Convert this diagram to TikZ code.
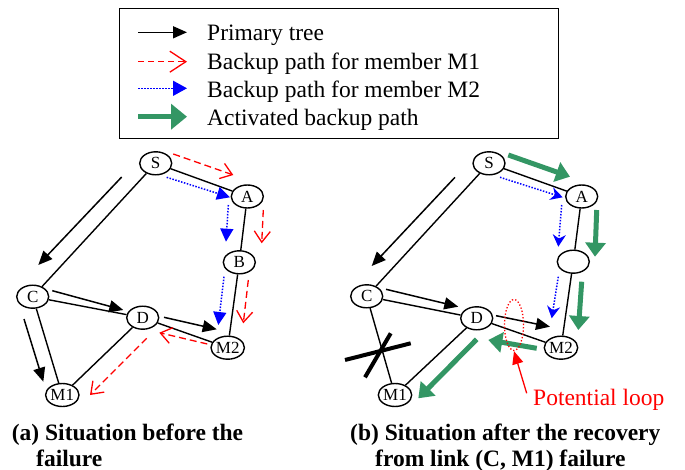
\documentclass[tikz,border=0pt]{standalone}
\usepackage{fontspec}
\setmainfont{Liberation Serif}
\usetikzlibrary{arrows.meta,shapes.geometric}
\definecolor{actgreen}{RGB}{51,150,100}
\begin{document}
\begin{tikzpicture}[x=1pt,y=-1pt,
  nd/.style={draw,ellipse,line width=1.4pt,minimum width=32pt,minimum height=23pt,inner sep=0pt,font=\fontsize{17}{17}\selectfont},
  link/.style={line width=1.4pt},
  tree/.style={line width=1.5pt,-{Triangle[length=14pt,width=12pt]}},
  redbk/.style={red,line width=1.3pt,dash pattern=on 7pt off 4pt,-{Straight Barb[length=11pt,width=16pt]}},
  bluebk/.style={blue,line width=1.5pt,dash pattern=on 1.5pt off 1.5pt,-{Triangle[length=13pt,width=13pt]}},
  bluebkb/.style={blue,line width=1.5pt,dash pattern=on 1.5pt off 1.5pt,-{Stealth[length=12pt,width=13pt]}},
  act/.style={actgreen,line width=5pt,-{Triangle[length=14pt,width=20pt]}},
  legtxt/.style={anchor=base west,inner sep=0pt,font=\fontsize{23.5}{24}\selectfont},
  capt/.style={anchor=base west,inner sep=0pt,font=\bfseries\fontsize{23.5}{24}\selectfont}
]
\useasboundingbox (0,0) rectangle (685,470);

% legend
\node[draw,line width=1.4pt,minimum width=439pt,minimum height=130pt,inner sep=0pt] (legend) at (338.8,73.3) {};
\coordinate (l1a) at (138,32.3); \coordinate (l1b) at (187,32.3);
\coordinate (l2a) at (138,61.7); \coordinate (l2b) at (187,61.7);
\coordinate (l3a) at (138,88.3); \coordinate (l3b) at (187,88.3);
\coordinate (l4a) at (138,116.7); \coordinate (l4b) at (187,116.7);
\draw[line width=1.5pt,-{Triangle[length=14pt,width=12pt]}] (l1a) -- (l1b);
\draw[red,line width=1.3pt,dash pattern=on 6pt off 4pt,-{Straight Barb[length=16pt,width=21pt]}] (l2a) -- (l2b);
\draw[blue,line width=1.5pt,dash pattern=on 1.5pt off 1.5pt,-{Triangle[length=14pt,width=15pt]}] (l3a) -- (l3b);
\draw[actgreen,line width=5pt,-{Triangle[length=16pt,width=25pt]}] (l4a) -- (l4b);
\node[legtxt] (t1) at (207,41) {Primary tree};
\node[legtxt] (t2) at (207,70) {Backup path for member M1};
\node[legtxt] (t3) at (207,97.5) {Backup path for member M2};
\node[legtxt] (t4) at (207,125.5) {Activated backup path};

% ---------- panel (a)
\node[nd] (S) at (155.7,163.3) {S};
\node[nd] (A) at (247.3,196.5) {A};
\node[nd] (B) at (239.3,262.3) {B};
\node[nd] (C) at (32.7,296.7) {C};
\node[nd] (D) at (142.7,317.7) {D};
\node[nd] (M2) at (227.7,347.7) {M2};
\node[nd] (M1) at (62.3,395) {M1};
\draw[link] (S) -- (A);
\draw[link] (S) -- (C);
\draw[link] (C) -- (D);
\draw[link] (C) -- (M1);
\draw[link] (D) -- (M1);
\draw[link] (D) -- (M2);
\draw[link] (A) -- (B);
\draw[link] (B) -- (M2);
% primary tree
\coordinate (a1) at (121.7,177); \coordinate (a2) at (38.3,265);
\coordinate (a3) at (52.3,290.7); \coordinate (a4) at (123.3,310);
\coordinate (a5) at (164,317.3); \coordinate (a6) at (216.7,329.3);
\coordinate (a7) at (24,319); \coordinate (a8) at (43.3,381.7);
\draw[tree] (a1) -- (a2);
\draw[tree] (a3) -- (a4);
\draw[tree] (a5) -- (a6);
\draw[tree] (a7) -- (a8);
% M1 backup
\coordinate (r1) at (173.3,154); \coordinate (r2) at (233.3,175);
\coordinate (r3) at (263.3,210); \coordinate (r4) at (261.7,243.3);
\coordinate (r5) at (248.3,280); \coordinate (r6) at (243.3,323.3);
\coordinate (r7) at (207.3,344); \coordinate (r8) at (159.3,332.7);
\coordinate (r9) at (146.7,338.3); \coordinate (r10) at (90,395);
\draw[redbk] (r1) -- (r2);
\draw[redbk] (r3) -- (r4);
\draw[redbk] (r5) -- (r6);
\draw[redbk] (r7) -- (r8);
\draw[redbk] (r9) -- (r10);
% M2 backup
\coordinate (b1) at (166.7,177.3); \coordinate (b2) at (230,197.3);
\coordinate (b3) at (228.3,205); \coordinate (b4) at (226,241.7);
\coordinate (b5) at (224,276.7); \coordinate (b6) at (218.3,325);
\draw[bluebk] (b1) -- (b2);
\draw[bluebk] (b3) -- (b4);
\draw[bluebk] (b5) -- (b6);

% ---------- panel (b)
\node[nd] (S') at (489,163.3) {S};
\node[nd] (A') at (581.7,196.5) {A};
\node[nd] (B') at (573.3,261.7) {};
\node[nd] (C') at (366.7,296.3) {C};
\node[nd] (D') at (476.7,318.3) {D};
\node[nd] (M2') at (561,347.7) {M2};
\node[nd] (M1') at (395,395) {M1};
\draw[link] (S') -- (A');
\draw[link] (S') -- (C');
\draw[link] (C') -- (D');
\draw[link] (C') -- (M1');
\draw[link] (D') -- (M1');
\draw[link] (D') -- (M2');
\draw[link] (A') -- (B');
\draw[link] (B') -- (M2');
% primary tree
\coordinate (c1) at (455,177.3); \coordinate (c2) at (371.7,266);
\coordinate (c3) at (386,289.3); \coordinate (c4) at (458.3,306.7);
\coordinate (c5) at (496,315.7); \coordinate (c6) at (550,326.7);
\draw[tree] (c1) -- (c2);
\draw[tree] (c3) -- (c4);
\draw[tree] (c5) -- (c6);
% M2 backup
\coordinate (e1) at (500,177.3); \coordinate (e2) at (562.7,197.3);
\coordinate (e3) at (561.7,205); \coordinate (e4) at (558.3,246.7);
\coordinate (e5) at (558.3,276.7); \coordinate (e6) at (551.7,318.3);
\draw[bluebkb] (e1) -- (e2);
\draw[bluebkb] (e3) -- (e4);
\draw[bluebkb] (e5) -- (e6);
% activated
\coordinate (g1) at (508.3,155); \coordinate (g2) at (570,176.7);
\coordinate (g3) at (596.7,210); \coordinate (g4) at (595,256.7);
\coordinate (g5) at (581.7,281.7); \coordinate (g6) at (578.3,330);
\coordinate (g7) at (536.7,348.3); \coordinate (g8) at (488.3,340);
\coordinate (g9) at (476.7,339.3); \coordinate (g10) at (418.3,398.3);
\draw[act] (g1) -- (g2);
\draw[act] (g3) -- (g4);
\draw[act] (g5) -- (g6);
\draw[act] (g7) -- (g8);
\draw[act] (g9) -- (g10);
% failure cross
\coordinate (x1) at (345,360); \coordinate (x2) at (410.7,343.3);
\coordinate (x3) at (365,377.3); \coordinate (x4) at (390.7,333.3);
\draw[line width=4pt] (x1) -- (x2);
\draw[line width=4pt] (x3) -- (x4);
% potential loop
\node[draw=red,ellipse,dotted,line width=1.3pt,minimum width=19pt,minimum height=51pt,inner sep=0pt] (loop) at (514,325) {};
\coordinate (p1) at (526.7,393.3);
\draw[red,line width=1.3pt,-{Triangle[length=13pt,width=11pt]}] (p1) -- (loop.south);
\node[anchor=base west,inner sep=0pt,red,font=\fontsize{23.5}{24}\selectfont] (pl) at (533,405.5) {Potential loop};

% captions
\node[capt] (ca1) at (11.7,440) {(a) Situation before the};
\node[capt] (ca2) at (36,466) {failure};
\node[capt] (cb1) at (350,440) {(b) Situation after the recovery};
\node[capt] (cb2) at (375,466) {from link (C, M1) failure};
\end{tikzpicture}
\end{document}
